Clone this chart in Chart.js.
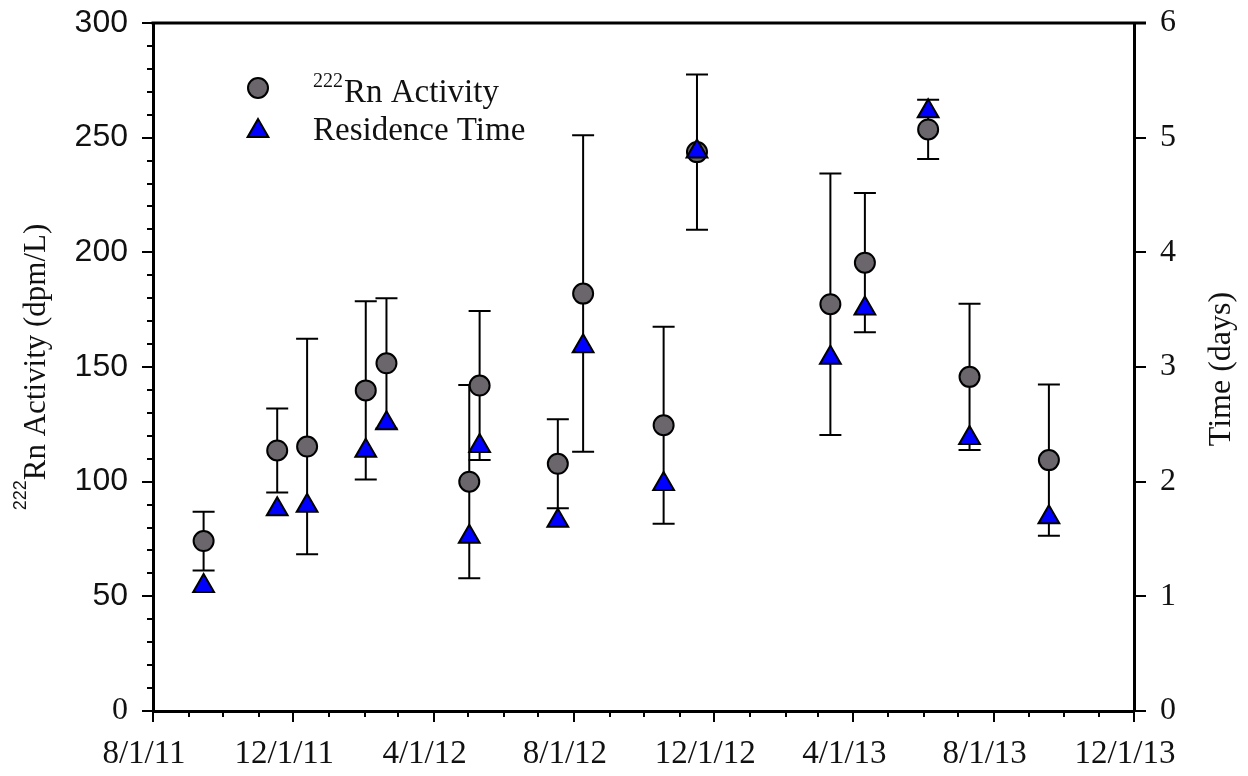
<!DOCTYPE html>
<html>
<head>
<meta charset="utf-8">
<script src="https://cdn.jsdelivr.net/npm/chart.js@4.4.1/dist/chart.umd.min.js"></script>
<style>
  html, body { margin: 0; padding: 0; background: #fff; }
</style>
</head>
<body>
<canvas id="rnChart" width="1248" height="776"></canvas>
<script>
// sampling campaigns
const sampleDates = [
  '2011-09-14', '2011-11-17', '2011-12-13', '2012-02-02', '2012-02-20',
  '2012-05-02', '2012-05-11', '2012-07-18', '2012-08-09', '2012-10-18',
  '2012-11-16', '2013-03-12', '2013-04-11', '2013-06-05', '2013-07-11',
  '2013-09-18'
];
// 222Rn activity (dpm/L) and its +/- error
const rnActivity = [74.1, 113.6, 115.3, 139.8, 151.6, 100.0, 141.9, 107.8, 182.0, 124.6, 243.7, 177.4, 195.5, 253.6, 145.7, 109.4];
const rnError    = [12.8, 18.3, 47.0, 38.9, 28.4, 42.1, 32.5, 19.4, 69.0, 42.9, 33.8, 57.0, 30.4, 12.9, 31.9, 33.0];
// residence time (days)
const residenceTime = [1.09, 1.76, 1.79, 2.27, 2.51, 1.52, 2.31, 1.66, 3.18, 1.98, 4.88, 3.08, 3.51, 5.23, 2.38, 1.69];

const xTickDates  = ['2011-08-01', '2011-12-01', '2012-04-01', '2012-08-01', '2012-12-01', '2013-04-01', '2013-08-01', '2013-12-01'];
const xTickLabels = ['8/1/11', '12/1/11', '4/1/12', '8/1/12', '12/1/12', '4/1/13', '8/1/13', '12/1/13'];
const rnTicks   = [0, 50, 100, 150, 200, 250, 300];
const rnMinor   = 10;
const timeTicks = [0, 1, 2, 3, 4, 5, 6];

const SERIF = '"Liberation Serif", "Times New Roman", serif';
const SANS = '"Liberation Sans", Arial, sans-serif';
const INK = '#111';

const START = Date.UTC(2011, 7, 1);
function dayNum(s) {
  const [y, m, d] = s.split('-').map(Number);
  return (Date.UTC(y, m - 1, d) - START) / 864e5;
}

// first of every month along the x axis, for the small ticks
const monthDays = [];
for (let i = 0; i <= 28; i++) {
  monthDays.push((Date.UTC(2011, 7 + i, 1) - START) / 864e5);
}

// keep the plot frame where it belongs: no extra label padding
function fixVertical(width) {
  return s => { s.width = width; s.paddingTop = 0; s.paddingBottom = 0; };
}

// error bars on the Rn activity points
const errorBars = {
  id: 'errorBars',
  beforeDatasetsDraw(chart) {
    const { ctx, scales: { x, y } } = chart;
    ctx.save();
    ctx.strokeStyle = '#000';
    ctx.lineWidth = 2;
    sampleDates.forEach((d, i) => {
      const px = x.getPixelForValue(dayNum(d));
      const top = y.getPixelForValue(rnActivity[i] + rnError[i]);
      const bot = y.getPixelForValue(rnActivity[i] - rnError[i]);
      ctx.beginPath();
      ctx.moveTo(px, top); ctx.lineTo(px, bot);
      ctx.moveTo(px - 11, top); ctx.lineTo(px + 11, top);
      ctx.moveTo(px - 11, bot); ctx.lineTo(px + 11, bot);
      ctx.stroke();
    });
    ctx.restore();
  }
};

// tick marks, top frame line, axis titles and legend
const frame = {
  id: 'frame',
  afterDraw(chart) {
    const { ctx, chartArea: a, scales: { x, y, y1 } } = chart;
    ctx.save();
    ctx.strokeStyle = '#000';
    ctx.lineWidth = 3;
    ctx.beginPath();
    ctx.moveTo(a.left - 1.5, a.top); ctx.lineTo(a.right + 12, a.top);
    ctx.stroke();

    ctx.lineWidth = 2;
    ctx.beginPath();
    const majors = xTickDates.map(dayNum);
    monthDays.forEach(v => {
      const px = Math.round(x.getPixelForValue(v));
      const len = majors.includes(v) ? 11 : 6;
      ctx.moveTo(px, a.bottom); ctx.lineTo(px, a.bottom + len);
    });
    for (let v = 0; v <= 300; v += rnMinor) {
      const py = Math.round(y.getPixelForValue(v));
      const len = rnTicks.includes(v) ? 11 : 6;
      ctx.moveTo(a.left, py); ctx.lineTo(a.left - len, py);
    }
    timeTicks.forEach(v => {
      const py = Math.round(y1.getPixelForValue(v));
      ctx.moveTo(a.right, py); ctx.lineTo(a.right + 12, py);
    });
    ctx.stroke();

    ctx.fillStyle = INK;
    ctx.textBaseline = 'alphabetic';

    // left title: 222Rn Activity (dpm/L)
    const midY = (a.top + a.bottom) / 2;
    ctx.save();
    ctx.translate(45, midY);
    ctx.rotate(-Math.PI / 2);
    ctx.font = '18px ' + SANS;
    const supW = ctx.measureText('222').width;
    ctx.font = '31px ' + SERIF;
    const mainW = ctx.measureText('Rn Activity (dpm/L)').width;
    let sx = -(supW + mainW) / 2;
    ctx.font = '18px ' + SANS;
    ctx.fillText('222', sx, -19);
    ctx.font = '31px ' + SERIF;
    ctx.fillText('Rn Activity (dpm/L)', sx + supW, 0);
    ctx.restore();

    // right title
    ctx.save();
    ctx.translate(1230, midY + 2);
    ctx.rotate(-Math.PI / 2);
    ctx.font = '32px ' + SERIF;
    ctx.textAlign = 'center';
    ctx.fillText('Time (days)', 0, 0);
    ctx.restore();

    // legend
    const rnSet = chart.data.datasets[1];
    const rtSet = chart.data.datasets[0];
    ctx.lineWidth = 2;
    ctx.strokeStyle = '#000';
    ctx.fillStyle = rnSet.backgroundColor;
    ctx.beginPath();
    ctx.arc(258, 88, rnSet.pointRadius, 0, Math.PI * 2);
    ctx.fill(); ctx.stroke();

    const r = rtSet.pointRadius, cx = 258, cy = 131;
    ctx.fillStyle = rtSet.backgroundColor;
    ctx.beginPath();
    ctx.moveTo(cx, cy - r);
    ctx.lineTo(cx + r * Math.sin(2 * Math.PI / 3), cy + r / 2);
    ctx.lineTo(cx - r * Math.sin(2 * Math.PI / 3), cy + r / 2);
    ctx.closePath();
    ctx.fill(); ctx.stroke();

    ctx.fillStyle = INK;
    ctx.font = '20px ' + SERIF;
    ctx.fillText('222', 313, 87);
    const lw = ctx.measureText('222').width;
    ctx.font = '33px ' + SERIF;
    ctx.fillText('Rn Activity', 313 + lw + 1, 102);
    ctx.fillText('Residence Time', 313, 140);
    ctx.restore();
  }
};

new Chart(document.getElementById('rnChart'), {
  type: 'scatter',
  data: {
    datasets: [
      {
        label: 'Residence Time',
        data: sampleDates.map((d, i) => ({ x: dayNum(d), y: residenceTime[i] })),
        yAxisID: 'y1',
        pointStyle: 'triangle',
        pointRadius: 12,
        backgroundColor: '#0000ff',
        borderColor: '#000',
        borderWidth: 2,
        order: 0
      },
      {
        label: '222Rn Activity',
        data: sampleDates.map((d, i) => ({ x: dayNum(d), y: rnActivity[i] })),
        yAxisID: 'y',
        pointStyle: 'circle',
        pointRadius: 10,
        backgroundColor: '#6a666b',
        borderColor: '#000',
        borderWidth: 2,
        order: 1
      }
    ]
  },
  options: {
    responsive: false,
    animation: false,
    devicePixelRatio: 1,
    layout: { padding: { top: 23, left: 0, right: 0, bottom: 0 } },
    plugins: { legend: { display: false }, tooltip: { enabled: false } },
    scales: {
      x: {
        type: 'linear',
        min: 0,
        max: dayNum('2013-12-01'),
        afterBuildTicks: s => { s.ticks = xTickDates.map(d => ({ value: dayNum(d) })); },
        afterFit: s => { s.height = 65; s.paddingLeft = 0; s.paddingRight = 0; },
        grid: { display: false, drawTicks: false },
        border: { display: true, color: '#000', width: 3 },
        ticks: {
          autoSkip: false,
          maxRotation: 0,
          padding: 24,
          labelOffset: -9,
          color: INK,
          font: { family: SERIF, size: 33 },
          callback: (v, i) => xTickLabels[i]
        }
      },
      y: {
        position: 'left',
        min: 0,
        max: 300,
        afterBuildTicks: s => { s.ticks = rnTicks.map(v => ({ value: v })); },
        afterFit: fixVertical(153),
        grid: { display: false, drawTicks: false },
        border: { display: true, color: '#000', width: 3 },
        ticks: {
          padding: 25,
          color: INK,
          font: c => ({ family: c.tick && c.tick.value === 0 ? SERIF : SANS, size: 32 })
        }
      },
      y1: {
        position: 'right',
        min: 0,
        max: 6,
        afterBuildTicks: s => { s.ticks = timeTicks.map(v => ({ value: v })); },
        afterFit: fixVertical(114),
        grid: { display: false, drawTicks: false },
        border: { display: true, color: '#000', width: 3 },
        ticks: {
          padding: 26,
          color: INK,
          font: { family: SERIF, size: 32 }
        }
      }
    }
  },
  plugins: [errorBars, frame]
});
</script>
</body>
</html>
